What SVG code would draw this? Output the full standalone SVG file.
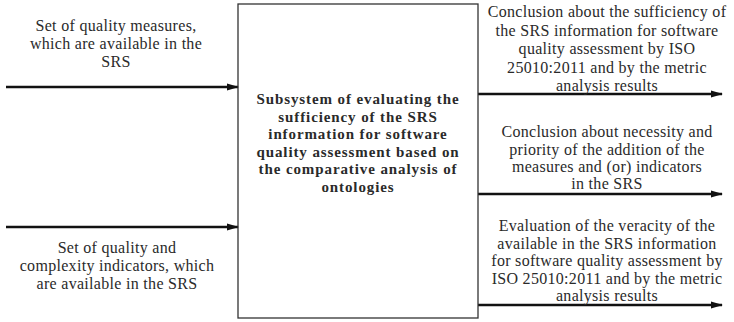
<svg xmlns="http://www.w3.org/2000/svg" width="734" height="322" viewBox="0 0 734 322">
<style>
.t{font-family:"Liberation Serif","Times New Roman",Times,serif;font-size:16px;fill:#2a2a2a;text-anchor:middle;letter-spacing:0.3px}
.b{font-family:"Liberation Serif","Times New Roman",Times,serif;font-size:15px;font-weight:bold;fill:#2a2a2a;text-anchor:middle;letter-spacing:0.9px}
.c{stroke:#111;stroke-width:2.5;fill:none;marker-end:url(#ah)}
</style>
<defs>
<marker id="ah" markerWidth="12" markerHeight="8" refX="11" refY="4" orient="auto" markerUnits="userSpaceOnUse">
<path d="M0,0.5 L12,4 L0,7.5 Z" fill="#111"/>
</marker>
</defs>
<rect width="734" height="322" fill="#fff"/>
<g id="connectors">
<line class="c" x1="6" y1="87" x2="238" y2="87"/>
<line class="c" x1="6" y1="227" x2="238" y2="227"/>
<line class="c" x1="478" y1="94" x2="722" y2="94"/>
<line class="c" x1="478" y1="194" x2="722" y2="194"/>
<line class="c" x1="478" y1="305" x2="722" y2="305"/>
</g>
<g id="subsystem">
<rect x="238" y="4" width="240" height="314" fill="none" stroke="#333" stroke-width="1.3"/>
<text class="b"><tspan x="358" y="104">Subsystem of evaluating the</tspan><tspan x="358" y="121.5">sufficiency of the SRS</tspan><tspan x="358" y="139">information for software</tspan><tspan x="358" y="156.5">quality assessment based on</tspan><tspan x="358" y="174">the comparative analysis of</tspan><tspan x="358" y="191.5">ontologies</tspan></text>
</g>
<g id="input1">
<text class="t"><tspan x="116" y="31">Set of quality measures,</tspan><tspan x="116" y="49">which are available in the</tspan><tspan x="116" y="67">SRS</tspan></text>
</g>
<g id="input2">
<text class="t"><tspan x="117" y="253">Set of quality and</tspan><tspan x="117" y="271">complexity indicators, which</tspan><tspan x="117" y="289">are available in the SRS</tspan></text>
</g>
<g id="output1">
<text class="t"><tspan x="607" y="17">Conclusion about the sufficiency of</tspan><tspan x="607" y="35.5">the SRS information for software</tspan><tspan x="607" y="54">quality assessment by ISO</tspan><tspan x="607" y="72.5">25010:2011 and by the metric</tspan><tspan x="607" y="91">analysis results</tspan></text>
</g>
<g id="output2">
<text class="t"><tspan x="607" y="137">Conclusion about necessity and</tspan><tspan x="607" y="154.5">priority of the addition of the</tspan><tspan x="607" y="172">measures and (or) indicators</tspan><tspan x="607" y="189">in the SRS</tspan></text>
</g>
<g id="output3">
<text class="t"><tspan x="607" y="231">Evaluation of the veracity of the</tspan><tspan x="607" y="248.5">available in the SRS information</tspan><tspan x="607" y="266">for software quality assessment by</tspan><tspan x="607" y="283.5">ISO 25010:2011 and by the metric</tspan><tspan x="607" y="301">analysis results</tspan></text>
</g>
</svg>
